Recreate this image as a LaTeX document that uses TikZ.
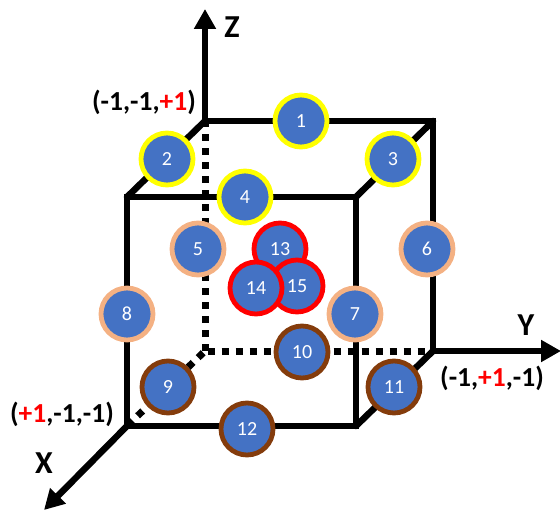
\documentclass[tikz,border=0pt]{standalone}
\usepackage{fontspec}
\setmainfont{Carlito}
\usetikzlibrary{arrows.meta}
\definecolor{ballblue}{HTML}{4472C4}
\definecolor{ringyellow}{HTML}{FFFF00}
\definecolor{ringpeach}{HTML}{F4B183}
\definecolor{ringbrown}{HTML}{843C0C}
\definecolor{ringred}{HTML}{FF0000}
\tikzset{
  edgeline/.style={line width=6.5pt,black,line cap=round,line join=miter},
  hidden/.style={line width=7pt,black,dash pattern=on 7pt off 7pt,dash phase=11.5pt},
  axisline/.style={line width=6.5pt,black,-{Triangle[length=20pt,width=21pt]}},
  ball/.style={circle,fill=ballblue,line width=4.8pt,minimum size=52pt,inner sep=0pt,text=white,font=\fontsize{20}{20}\selectfont},
  yball/.style={ball,draw=ringyellow},
  pball/.style={ball,draw=ringpeach},
  bball/.style={ball,draw=ringbrown},
  rball/.style={ball,draw=ringred},
  axislabel/.style={font=\fontsize{32}{32}\selectfont\bfseries,inner sep=0pt},
  coordlabel/.style={font=\fontsize{27.5}{27.5}\selectfont\bfseries,inner sep=0pt},
}
\begin{document}
\begin{tikzpicture}[x=1pt,y=-1pt]
\useasboundingbox (0,0) rectangle (560,513);
% cube corners
\coordinate (fbl) at (127,426);
\coordinate (fbr) at (356,426);
\coordinate (ftl) at (127,197);
\coordinate (ftr) at (356,197);
\coordinate (bbl) at (205,351);
\coordinate (bbr) at (433,351);
\coordinate (btl) at (205,121);
\coordinate (btr) at (433,121);
\coordinate (zend) at (205,9);
\coordinate (yend) at (561,351);
\coordinate (xend) at (44,510);
% hidden edges
\draw[hidden,dash phase=14pt] (bbl) -- (btl);
\draw[hidden] (bbl) -- (bbr);
\draw[hidden] (bbl) -- (fbl);
% visible edges
\draw[edgeline] (btl) -- (btr) -- (bbr);
\draw[edgeline] (btl) -- (ftl);
\draw[edgeline] (ftl) -- (fbl) -- (fbr) -- (ftr) -- cycle;
\draw[edgeline] (btr) -- (ftr);
\draw[edgeline] (bbr) -- (fbr);
% axes
\draw[axisline] (btl) -- (zend);
\draw[axisline] (bbr) -- (yend);
\draw[axisline] (fbl) -- (xend);
% balls
\node[yball] (n1) at (301,121) {1};
\node[yball] (n2) at (167,159) {2};
\node[yball] (n3) at (393,159) {3};
\node[yball] (n4) at (245,197) {4};
\node[pball] (n5) at (198,249) {5};
\node[pball] (n6) at (427,249) {6};
\node[pball] (n7) at (355,314) {7};
\node[pball] (n8) at (127,314) {8};
\node[bball] (n9) at (168,387) {9};
\node[bball] (n10) at (302,352) {10};
\node[bball] (n11) at (394,387) {11};
\node[bball] (n12) at (247,429) {12};
\node[rball] (n13) at (280,249) {13};
\node[rball] (n15) at (297,286) {15};
\node[rball] (n14) at (256,288) {14};
% labels
\node[axislabel] (lz) at (232,27) {Z};
\node[axislabel] (ly) at (526,325) {Y};
\node[axislabel] (lx) at (44,463) {X};
\node[coordlabel] (lt) at (144,102) {(-1,-1,\textcolor{red}{+1})};
\node[coordlabel] (lr) at (492,378) {(-1,\textcolor{red}{+1},-1)};
\node[coordlabel] (ll) at (62,414) {(\textcolor{red}{+1},-1,-1)};
\end{tikzpicture}
\end{document}
